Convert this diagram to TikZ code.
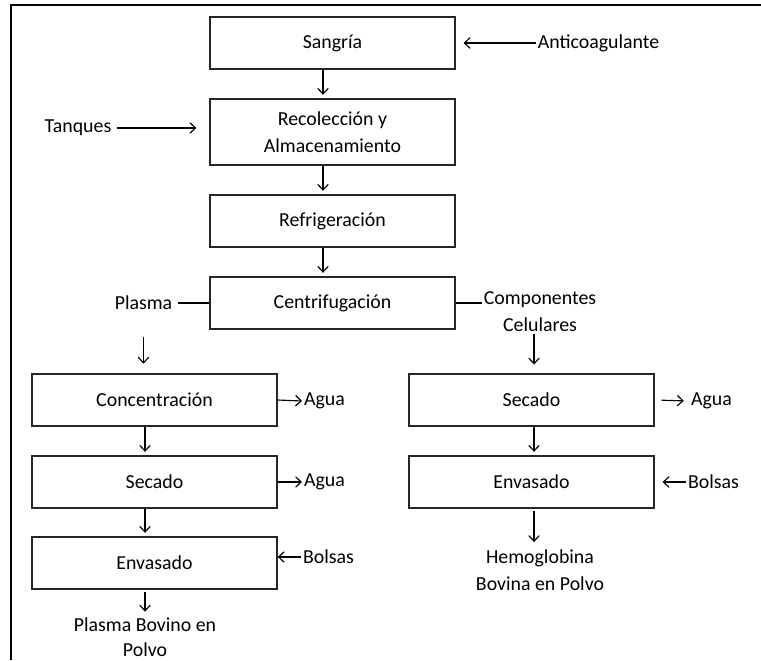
\documentclass[tikz,border=0pt]{standalone}
\usepackage{fontspec}
\setmainfont{Carlito}
\usetikzlibrary{arrows.meta,positioning}

\begin{document}
\begin{tikzpicture}[x=0.02cm, y=-0.02cm, >={Straight Barb[length=3.2pt,width=6pt]},
    caja/.style={draw=black!85, line width=0.8pt, minimum width=4.9cm, minimum height=1.04cm,
                 align=center, inner sep=2pt, font=\fontsize{11.3}{15.5}\selectfont},
    texto/.style={inner sep=1pt, align=center, font=\fontsize{11.3}{15.5}\selectfont},
    flecha/.style={->, line width=0.65pt}]
    \useasboundingbox (0,0) rectangle (761,660);

    % Marco
    \draw[line width=0.7pt] (11,660) -- (11,5) -- (761,5);

    % Etapas principales
    \node[caja] (sangria) at (332.5,43) {Sangría};
    \node[caja, minimum height=1.32cm] (recoleccion) at (332.5,132) {Recolección y\\Almacenamiento};
    \node[caja] (refrigeracion) at (332.5,221) {Refrigeración};
    \node[caja] (centrifugacion) at (332.5,303) {Centrifugación};

    % Entradas y salidas de la centrifugacion
    \node[texto] (anticoag) at (598.5,43) {Anticoagulante};
    \node[texto] (tanques) at (78,128) {Tanques};
    \node[texto] (plasma) at (143.5,303) {Plasma};
    \node[texto] (componentes) at (540,312) {Componentes\\Celulares};

    % Linea del plasma
    \node[caja] (concentracion) at (154.5,400) {Concentración};
    \node[caja] (secadoP) at (154.5,482) {Secado};
    \node[caja] (envasadoP) at (154.5,563) {Envasado};
    \node[texto, anchor=west] (aguaP1) at (302,401) {Agua};
    \node[texto, anchor=west] (aguaP2) at (302,482) {Agua};
    \node[texto, anchor=west] (bolsasP) at (301,557) {Bolsas};
    \node[texto, font=\fontsize{11.3}{14.5}\selectfont] (plasmapolvo) at (145,637) {Plasma Bovino en\\Polvo};

    % Linea de componentes celulares
    \node[caja] (secadoC) at (531.5,400) {Secado};
    \node[caja] (envasadoC) at (531.5,482) {Envasado};
    \node[texto, anchor=west] (aguaC) at (689,401) {Agua};
    \node[texto, anchor=west] (bolsasC) at (686,482) {Bolsas};
    \node[texto] (hemoglobina) at (540,570) {Hemoglobina\\Bovina en Polvo};

    % Flechas verticales
    \draw[flecha, shorten >=2pt] ([xshift=-0.19cm]sangria.south) -- ([xshift=-0.19cm]recoleccion.north);
    \draw[flecha, shorten >=2pt] ([xshift=-0.19cm]recoleccion.south) -- ([xshift=-0.19cm]refrigeracion.north);
    \draw[flecha, shorten >=2pt] ([xshift=-0.19cm]refrigeracion.south) -- ([xshift=-0.19cm]centrifugacion.north);
    \draw[flecha, shorten <=14pt, shorten >=5.5pt] (plasma.south) -- (plasma.south |- concentracion.north);
    \draw[flecha, shorten >=2pt] ([xshift=-0.19cm]concentracion.south) -- ([xshift=-0.19cm]secadoP.north);
    \draw[flecha, shorten >=2pt] ([xshift=-0.19cm]secadoP.south) -- ([xshift=-0.19cm]envasadoP.north);
    \draw[flecha, shorten <=1.5pt, shorten >=2pt] ([xshift=-0.19cm]envasadoP.south) -- ([xshift=-0.19cm]envasadoP.south |- plasmapolvo.north);
    \draw[flecha, shorten >=5pt] ([xshift=-0.12cm]componentes.south) -- ([xshift=-0.12cm]componentes.south |- secadoC.north);
    \draw[flecha, shorten >=2pt] ([xshift=0.05cm]secadoC.south) -- ([xshift=0.05cm]envasadoC.north);
    \draw[flecha, shorten <=1.5pt, shorten >=3pt] ([xshift=0.05cm]envasadoC.south) -- ([xshift=0.05cm]envasadoC.south |- hemoglobina.north);

    % Flechas horizontales
    \draw[flecha, shorten >=4.5pt] (anticoag.west) -- (sangria.east);
    \draw[flecha, shorten <=2pt, shorten >=7.4pt] (tanques.east) -- (recoleccion.west |- tanques.east);
    \draw[line width=0.65pt, shorten >=2pt] (centrifugacion.west) -- (plasma.east);
    \draw[line width=0.65pt] (centrifugacion.east) -- (centrifugacion.east -| componentes.west);
    \draw[flecha] (concentracion.east) -- (aguaP1.west);
    \draw[flecha] (secadoP.east) -- (aguaP2.west);
    \draw[flecha] (bolsasP.west) -- (bolsasP.west -| envasadoP.east);
    \draw[flecha, shorten <=4pt, shorten >=3pt] (secadoC.east) -- (aguaC.west);
    \draw[flecha, shorten >=4.5pt] (bolsasC.west) -- (envasadoC.east);
\end{tikzpicture}
\end{document}
